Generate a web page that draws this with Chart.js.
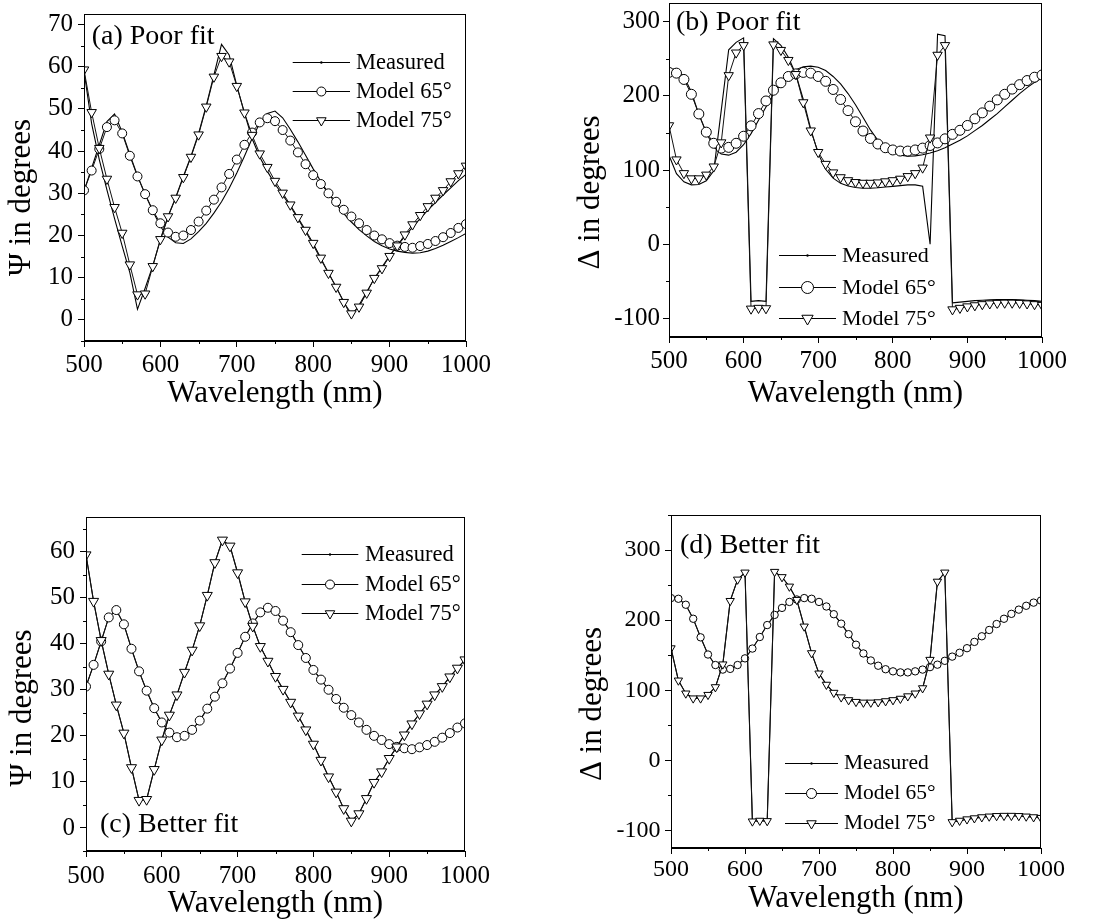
<!DOCTYPE html>
<html>
<head>
<meta charset="utf-8">
<script src="https://cdn.jsdelivr.net/npm/chart.js@4.4.1/dist/chart.umd.min.js"></script>
<style>
  html, body { margin: 0; padding: 0; background: #fff; overflow: hidden; width: 1101px; height: 921px; position: relative; }
  canvas { position: absolute; }
</style>
</head>
<body>
<canvas id="pa"></canvas>
<canvas id="pb"></canvas>
<canvas id="pc"></canvas>
<canvas id="pd"></canvas>
<script>
const FONT = '"Liberation Serif", "Times New Roman", Times, serif';

// Wavelength grid (nm)
const wavelength = [500,510,520,530,540,550,560,570,580,590,600,610,620,630,640,650,660,670,680,690,700,
  710,720,730,740,750,760,770,780,790,800,810,820,830,840,850,860,870,880,890,900,
  910,920,930,940,950,960,970,980,990,1000];

const seriesNames = ['Measured', 'Model 65°', 'Model 75°'];
const xTitle = 'Wavelength (nm)';
const psiTitle = 'Ψ in degrees';
const deltaTitle = 'Δ in degrees';
const panelTags = ['(a) Poor fit', '(b) Poor fit', '(c) Better fit', '(d) Better fit'];

// Psi (degrees), model at 65° and 75°
const psiModel65 = [30.7,35.4,40.5,45.7,47.3,44.2,38.9,34.0,29.8,26.0,22.9,20.7,19.7,20.0,21.3,23.3,25.9,28.5,31.4,34.6,38.0,
  41.5,44.4,46.8,47.8,47.1,45.0,42.5,39.7,36.9,34.3,32.2,30.0,28.0,26.1,24.5,22.9,21.3,20.0,19.1,18.2,
  17.6,17.3,17.1,17.5,18.0,18.7,19.6,20.6,21.8,22.7];
const psiModel75 = [59.3,49.2,40.7,33.4,26.7,20.6,13.1,6.0,6.2,12.7,19.1,24.5,28.9,33.8,38.6,43.9,50.5,57.6,62.5,61.2,55.4,
  49.1,43.8,39.4,36.2,32.9,30.1,27.3,24.3,21.3,18.2,14.7,11.1,7.8,4.2,1.5,3.1,6.4,9.9,12.2,15.1,
  17.6,20.2,22.6,24.8,26.9,28.9,30.7,32.8,34.7,36.5];

// Psi (degrees), measured, shown against the poor fit
const psiMeasuredPoor65 = [30.5,36.0,41.5,47.0,48.8,44.5,39.2,34.2,29.8,25.8,22.2,19.6,18.3,18.1,19.2,20.9,22.9,25.3,28.0,31.2,34.8,
  38.8,43.0,46.6,48.9,49.5,47.9,45.2,42.2,39.0,35.8,32.8,30.0,27.5,25.2,23.2,21.4,19.9,18.6,17.6,16.8,
  16.3,16.0,15.8,15.9,16.3,16.9,17.7,18.6,19.5,20.5];
const psiMeasuredPoor75 = [59.0,46.5,38.0,30.8,24.0,17.5,11.2,2.5,7.5,12.8,19.0,24.5,29.0,34.0,38.8,44.2,50.8,58.0,65.3,62.8,55.5,
  49.0,43.0,38.6,35.2,32.2,29.6,27.0,24.0,21.0,17.8,14.4,11.1,7.8,4.3,0.8,3.5,6.6,9.8,12.5,15.2,
  17.6,19.8,22.0,24.0,26.0,27.8,29.6,31.3,33.0,34.5];

// Delta (degrees), model at 65° and 75°
const deltaModel65 = [231.5,230.5,222,202,175.5,151,136,129.5,130.5,136,145.5,159.5,176,193,207.5,217.5,226,229.5,231.5,230.5,226,
  219.5,208.5,195,180,165,152.5,142.5,135,130,127,125.5,125.5,127,129.5,133,136.5,142,148,153.5,160,
  169,177,186,194.5,202,209,215,220.5,225,228];
const deltaModel75 = [160,114,95.5,88.5,88.5,93.5,104.5,137,227.5,258,268,-87,-86,-86.5,269,261.5,248,229,191,153,124,
  108,96.5,90,86,83.5,82.5,82.5,83,84.5,86,88,91.5,95.5,103,143.5,255,268,-88,-86,-84,
  -82.5,-81,-80,-79.3,-79,-79,-79.3,-80,-81,-82];

// Delta (degrees), measured, shown against the poor fit
const deltaMeasuredPoor65 = [236,236,226,205,175,150,131,121.5,120,124,134,149,167,185,202,216,227,235,239,240,238.5,
  234,226,216,203,188,171,154,140,130,123.5,120,118.5,119,120.5,123,126,130,135,140,146,
  153,160,168,176,185,194,203,211,218,224];
const deltaMeasuredPoor75 = [120,95,84,80,80.5,85.5,99,180,262,272,278,-77,-76,-77,277,268,252,229,195,155,122,
  101,89,82,78.5,76.5,75.5,75.5,76,77,78,79,80,80,78,0,283,281,-79,-78,-77,
  -76,-75.5,-75,-74.5,-74.5,-74.5,-75,-75.5,-76,-77];

// With the better fit the measured curves coincide with the model curves
const psiMeasuredBetter65 = psiModel65;
const psiMeasuredBetter75 = psiModel75;
const deltaMeasuredBetter65 = deltaModel65;
const deltaMeasuredBetter75 = deltaModel75;

// Panel geometry (page pixels) and styling
const panels = [
  { id: 'pa', tag: panelTags[0], yTitle: psiTitle,
    meas: [psiMeasuredPoor65, psiMeasuredPoor75], m65: psiModel65, m75: psiModel75,
    yMin: -5, yMax: 72.5, yStep: 10, yMinor: 5,
    box: { left: 0, top: -10, w: 550, h: 440 }, area: { l: 84, t: 14, r: 466, b: 341 },
    xH: 71, xPad: 3, yPad: 5, tickSize: 25,
    yTitlePos: [21.7, 197.5], tagPos: [91.7, 37],
    legend: { x0: 292.7, x1: 350, tx: 356, rows: [61.7, 90.7, 120], size: 22.5, cr: 4.5, tr: 5.5 },
    cr: 4.5, tr: 5.5 },
  { id: 'pb', tag: panelTags[1], yTitle: deltaTitle,
    meas: [deltaMeasuredPoor65, deltaMeasuredPoor75], m65: deltaModel65, m75: deltaModel75,
    yMin: -125, yMax: 325, yStep: 100, yMinor: 50,
    box: { left: 550, top: -20, w: 551, h: 450 }, area: { l: 669, t: 3, r: 1042, b: 337 },
    xH: 75, xPad: 3, yPad: 3, tickSize: 25,
    yTitlePos: [590.8, 192.5], tagPos: [676, 22.5],
    legend: { x0: 779, x1: 836, tx: 842, rows: [255, 287.3, 318.3], size: 22, cr: 6, tr: 6.5 },
    cr: 5, tr: 5.4 },
  { id: 'pc', tag: panelTags[2], yTitle: psiTitle,
    meas: [psiMeasuredBetter65, psiMeasuredBetter75], m65: psiModel65, m75: psiModel75,
    yMin: -5, yMax: 67.5, yStep: 10, yMinor: 5,
    box: { left: 0, top: 420, w: 550, h: 510 }, area: { l: 86, t: 517, r: 465, b: 851 },
    xH: 71, xPad: 4.5, yPad: 5, tickSize: 25,
    yTitlePos: [22.5, 708], tagPos: [100, 825],
    legend: { x0: 301.7, x1: 358.3, tx: 365, rows: [554, 584, 612.7], size: 22.5, cr: 4.5, tr: 5.5 },
    cr: 4.5, tr: 5.8 },
  { id: 'pd', tag: panelTags[3], yTitle: deltaTitle,
    meas: [deltaMeasuredBetter65, deltaMeasuredBetter75], m65: deltaModel65, m75: deltaModel75,
    yMin: -125, yMax: 350, yStep: 100, yMinor: 50,
    box: { left: 550, top: 420, w: 551, h: 510 }, area: { l: 671, t: 515, r: 1041, b: 848 },
    xH: 69, xPad: 1, yPad: 4.5, tickSize: 24,
    yTitlePos: [593, 704], tagPos: [680, 546],
    legend: { x0: 785, x1: 838, tx: 844, rows: [762.7, 792.7, 822.7], size: 21.5, cr: 5, tr: 5.5 },
    cr: 3.7, tr: 4.8 }
];

function toPoints(values) {
  return wavelength.map((w, i) => ({ x: w, y: values[i] }));
}

function drawMarker(ctx, style, x, y, r) {
  ctx.beginPath();
  if (style === 'circle') {
    ctx.arc(x, y, r, 0, Math.PI * 2);
  } else {
    const a = Math.PI, step = 2 * Math.PI / 3;
    ctx.moveTo(x + Math.sin(a) * r, y - Math.cos(a) * r);
    ctx.lineTo(x + Math.sin(a + step) * r, y - Math.cos(a + step) * r);
    ctx.lineTo(x + Math.sin(a + 2 * step) * r, y - Math.cos(a + 2 * step) * r);
    ctx.closePath();
  }
  ctx.fillStyle = '#fff';
  ctx.fill();
  ctx.lineWidth = 1;
  ctx.strokeStyle = '#000';
  ctx.stroke();
}

// Frame, minor ticks, rotated y title, panel tag and inset legend
const decorations = {
  id: 'decorations',
  afterDraw(chart, args, opts) {
    const p = opts.panel;
    const ox = p.box.left, oy = p.box.top;
    const ctx = chart.ctx;
    const ca = chart.chartArea;
    const xs = chart.scales.x, ys = chart.scales.y;
    ctx.save();
    // frame
    ctx.strokeStyle = '#000';
    ctx.lineWidth = 1;
    const L = Math.round(ca.left) + 0.5, T = Math.round(ca.top) + 0.5;
    const R = Math.round(ca.right) - 0.5, B = Math.round(ca.bottom) - 0.5;
    ctx.strokeRect(L, T, R - L, B - T);
    // minor ticks
    ctx.beginPath();
    for (let v = 550; v < 1000; v += 100) {
      const px = Math.round(xs.getPixelForValue(v)) + 0.5;
      ctx.moveTo(px, B); ctx.lineTo(px, B + 3.5);
    }
    const first = Math.ceil(p.yMin / p.yMinor) * p.yMinor;
    for (let v = first; v <= p.yMax + 1e-9; v += p.yMinor) {
      if (Math.abs(v / p.yStep - Math.round(v / p.yStep)) < 1e-6) continue;
      const py = Math.round(ys.getPixelForValue(v)) + 0.5;
      ctx.moveTo(L, py); ctx.lineTo(L - 3.5, py);
    }
    ctx.stroke();
    // y title
    ctx.fillStyle = '#000';
    ctx.font = '31px ' + FONT;
    ctx.textAlign = 'center';
    ctx.textBaseline = 'middle';
    ctx.translate(p.yTitlePos[0] - ox, p.yTitlePos[1] - oy);
    ctx.rotate(-Math.PI / 2);
    ctx.fillText(ys.options.title.text, 0, 0);
    ctx.setTransform(1, 0, 0, 1, 0, 0);
    // panel tag
    ctx.font = '28px ' + FONT;
    ctx.textAlign = 'left';
    ctx.fillText(p.tag, p.tagPos[0] - ox, p.tagPos[1] - oy);
    // legend
    const lg = p.legend;
    ctx.font = lg.size + 'px ' + FONT;
    chart.data.datasets.forEach((ds, i) => {
      const y = Math.round(lg.rows[i] - oy) + 0.5;
      const x0 = lg.x0 - ox, x1 = lg.x1 - ox, xm = (x0 + x1) / 2;
      ctx.beginPath();
      ctx.moveTo(x0, y); ctx.lineTo(x1, y);
      ctx.strokeStyle = '#000'; ctx.lineWidth = 1; ctx.stroke();
      if (ds.legendStyle === 'dot') {
        ctx.beginPath(); ctx.arc(xm, y, 1.2, 0, Math.PI * 2); ctx.fillStyle = '#000'; ctx.fill();
      } else {
        drawMarker(ctx, ds.legendStyle, xm, y, ds.legendStyle === 'circle' ? lg.cr : lg.tr);
      }
      ctx.fillStyle = '#000';
      ctx.fillText(ds.label, lg.tx - ox, lg.rows[i] - oy + 1);
    });
    ctx.restore();
  }
};

panels.forEach(p => {
  const cv = document.getElementById(p.id);
  cv.width = p.box.w; cv.height = p.box.h;
  cv.style.left = p.box.left + 'px'; cv.style.top = p.box.top + 'px';
  cv.style.width = p.box.w + 'px'; cv.style.height = p.box.h + 'px';

  const yW = p.area.l - p.box.left;
  const padTop = p.area.t - p.box.top;
  const padRight = p.box.left + p.box.w - p.area.r;
  const padBottom = p.box.top + p.box.h - p.area.b - p.xH;

  const measuredPts = toPoints(p.meas[0]).concat([{ x: 1000, y: null }], toPoints(p.meas[1]));

  new Chart(cv, {
    type: 'line',
    data: {
      datasets: [
        { label: seriesNames[0], data: measuredPts, borderColor: '#000', borderWidth: 1.1,
          pointRadius: 0, spanGaps: false, order: 3, legendStyle: 'dot' },
        { label: seriesNames[1], data: toPoints(p.m65), borderColor: '#111', borderWidth: 1,
          pointStyle: 'circle', pointRadius: p.cr, pointBorderWidth: 1, pointBorderColor: '#000',
          pointBackgroundColor: '#fff', order: 2, legendStyle: 'circle' },
        { label: seriesNames[2], data: toPoints(p.m75), borderColor: '#111', borderWidth: 1,
          pointStyle: 'triangle', pointRotation: 180, pointRadius: p.tr, pointBorderWidth: 1,
          pointBorderColor: '#000', pointBackgroundColor: '#fff', order: 1, legendStyle: 'triangle' }
      ]
    },
    options: {
      responsive: false,
      animation: false,
      devicePixelRatio: 1,
      elements: { line: { tension: 0 }, point: { hoverRadius: 0 } },
      events: [],
      layout: { padding: { left: 0, top: padTop, right: padRight, bottom: padBottom } },
      plugins: {
        legend: { display: false },
        tooltip: { enabled: false },
        decorations: { panel: p }
      },
      scales: {
        x: {
          type: 'linear', min: 500, max: 1000,
          afterFit: s => { s.height = p.xH; },
          ticks: { stepSize: 100, includeBounds: false, autoSkip: false, maxRotation: 0,
                   callback: v => String(v),
                   color: '#000', padding: p.xPad, font: { family: FONT, size: p.tickSize } },
          grid: { display: true, drawOnChartArea: false, drawTicks: true, tickLength: 6,
                  tickColor: '#000', tickWidth: 1 },
          border: { display: true, color: '#000', width: 1 },
          title: { display: true, text: xTitle, color: '#000',
                   font: { family: FONT, size: 31 }, padding: { top: 0, bottom: 0 } }
        },
        y: {
          type: 'linear', min: p.yMin, max: p.yMax,
          afterFit: s => { s.width = yW; },
          ticks: { stepSize: p.yStep, includeBounds: false, autoSkip: false,
                   callback: v => String(v),
                   color: '#000', padding: p.yPad, font: { family: FONT, size: p.tickSize } },
          grid: { display: true, drawOnChartArea: false, drawTicks: true, tickLength: 6,
                  tickColor: '#000', tickWidth: 1 },
          border: { display: true, color: '#000', width: 1 },
          title: { display: false, text: p.yTitle }
        }
      }
    },
    plugins: [decorations]
  });
});
</script>
</body>
</html>
